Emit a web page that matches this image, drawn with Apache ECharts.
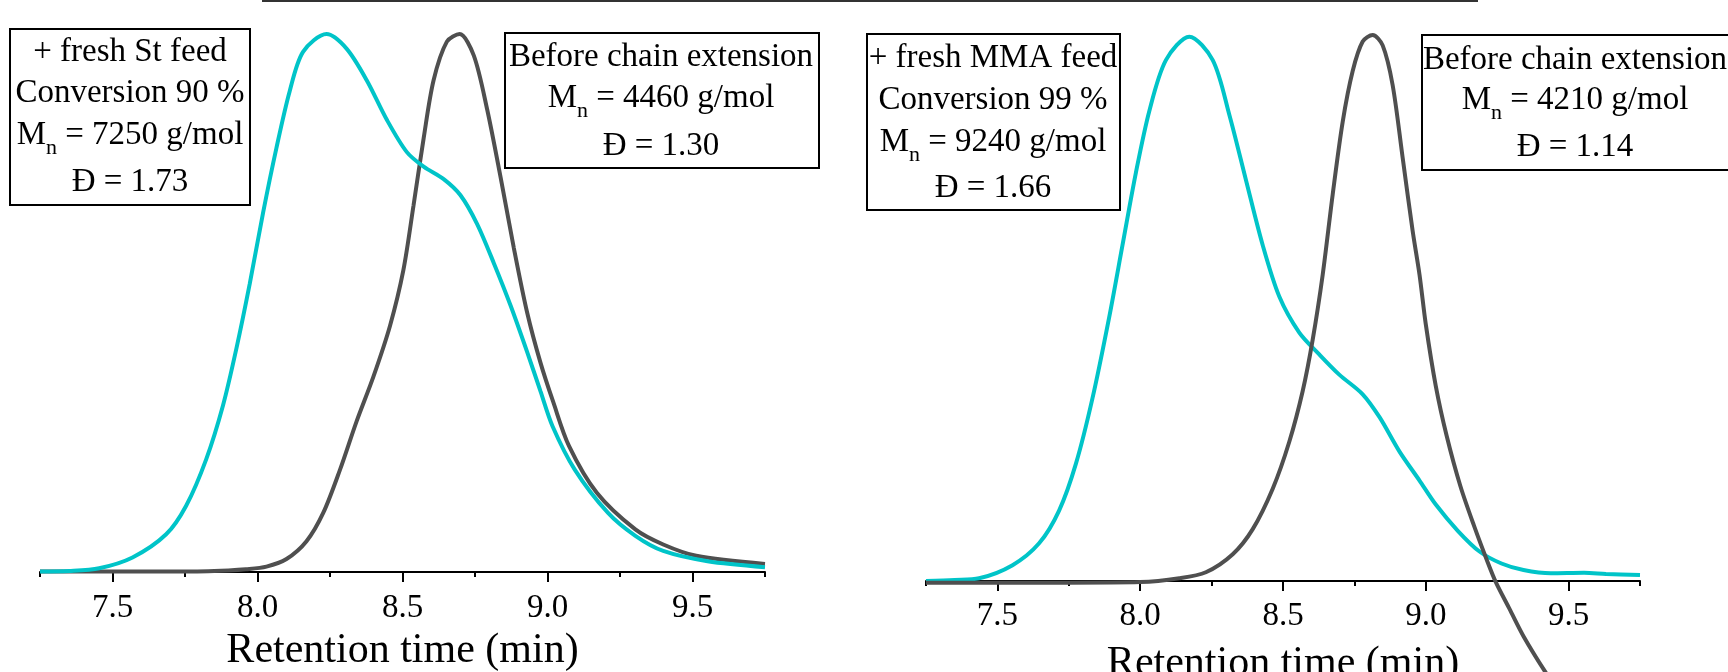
<!DOCTYPE html>
<html>
<head>
<meta charset="utf-8">
<script src="https://cdn.jsdelivr.net/npm/echarts@6/dist/echarts.min.js"></script>
<style>
  html, body { margin: 0; padding: 0; background: #fff; }
  #main { width: 1728px; height: 672px; }
</style>
</head>
<body>
<div id="main"></div>
<script>
// retention time (min) vs normalised detector signal
const stFeedCurve = [
  [7.25, 0.001], [7.35, 0.002], [7.454, 0.007], [7.569, 0.027], [7.685, 0.070],
  [7.754, 0.123], [7.823, 0.209], [7.881, 0.309], [7.927, 0.414], [7.973, 0.534],
  [8.019, 0.666], [8.065, 0.786], [8.111, 0.892], [8.157, 0.965], [8.238, 0.998],
  [8.307, 0.971], [8.377, 0.912], [8.446, 0.839], [8.515, 0.779], [8.573, 0.752],
  [8.642, 0.729], [8.70, 0.699], [8.757, 0.646], [8.815, 0.573], [8.873, 0.494],
  [8.93, 0.408], [8.976, 0.335], [9.017, 0.271], [9.094, 0.190], [9.208, 0.110],
  [9.303, 0.067], [9.399, 0.039], [9.552, 0.020], [9.75, 0.009]
]
const stBeforeCurve = [
  [7.25, 0.001], [7.50, 0.001], [7.75, 0.001], [7.90, 0.003], [7.96, 0.005],
  [8.031, 0.010], [8.10, 0.024], [8.169, 0.057], [8.227, 0.110], [8.284, 0.189],
  [8.342, 0.280], [8.40, 0.363], [8.457, 0.457], [8.503, 0.560], [8.538, 0.680],
  [8.573, 0.805], [8.607, 0.912], [8.653, 0.984], [8.697, 0.998], [8.746, 0.958],
  [8.792, 0.858], [8.838, 0.733], [8.884, 0.601], [8.93, 0.481], [8.976, 0.388],
  [9.02, 0.315], [9.074, 0.234], [9.17, 0.147], [9.303, 0.079], [9.399, 0.051],
  [9.513, 0.030], [9.75, 0.015]
]
const mmaFeedCurve = [
  [7.25, 0.0], [7.35, 0.002], [7.436, 0.005], [7.553, 0.029], [7.646, 0.069],
  [7.716, 0.129], [7.775, 0.215], [7.833, 0.335], [7.891, 0.482], [7.938, 0.615],
  [7.985, 0.748], [8.032, 0.861], [8.09, 0.954], [8.172, 0.997], [8.254, 0.954],
  [8.312, 0.854], [8.37, 0.735], [8.429, 0.615], [8.487, 0.521], [8.557, 0.455],
  [8.627, 0.415], [8.697, 0.378], [8.779, 0.342], [8.838, 0.300], [8.908, 0.237],
  [8.978, 0.184], [9.035, 0.140], [9.112, 0.092], [9.188, 0.054], [9.265, 0.032],
  [9.342, 0.020], [9.438, 0.014], [9.554, 0.015], [9.631, 0.013], [9.75, 0.011]
]
const mmaBeforeCurve = [
  [7.25, -0.003], [7.75, -0.003], [8.0, -0.002], [8.137, 0.005], [8.23, 0.016],
  [8.324, 0.049], [8.394, 0.095], [8.464, 0.169], [8.522, 0.255], [8.569, 0.348],
  [8.604, 0.442], [8.639, 0.561], [8.674, 0.708], [8.709, 0.841], [8.744, 0.934],
  [8.779, 0.988], [8.814, 1.0], [8.849, 0.981], [8.884, 0.908], [8.919, 0.775],
  [8.954, 0.641], [8.978, 0.561], [9.0, 0.470], [9.035, 0.357], [9.073, 0.266],
  [9.121, 0.174], [9.169, 0.101], [9.217, 0.034], [9.246, -0.003], [9.294, -0.052],
  [9.342, -0.101], [9.419, -0.167], [9.50, -0.23]
]
const majorTicks = [7.5, 8.0, 8.5, 9.0, 9.5]
const minorTicks = [7.25, 7.75, 8.25, 8.75, 9.25, 9.75]

const stFeedText = ['+ fresh St feed', 'Conversion 90 %', '7250 g/mol', 'Đ = 1.73']
const stBeforeText = ['Before chain extension', '4460 g/mol', 'Đ = 1.30']
const mmaFeedText = ['+ fresh MMA feed', 'Conversion 99 %', '9240 g/mol', 'Đ = 1.66']
const mmaBeforeText = ['Before chain extension', '4210 g/mol', 'Đ = 1.14']

const serif = "'Liberation Serif', 'Times New Roman', serif"
const cyan = '#00C4C8'
const grey = '#4F4F4F'

function mainAxis (grid, labelSize, margin, nameGap) {
  return {
    type: 'value',
    gridIndex: grid,
    position: 'bottom',
    min: 7.25,
    max: 9.75,
    name: 'Retention time (min)',
    nameLocation: 'middle',
    nameGap: nameGap,
    nameTextStyle: { fontFamily: serif, fontSize: 42, color: '#000' },
    axisLine: { onZero: false, lineStyle: { color: '#000', width: 2 } },
    axisTick: { customValues: majorTicks, length: 10, lineStyle: { color: '#000', width: 2 } },
    axisLabel: {
      customValues: majorTicks,
      margin: margin,
      fontFamily: serif,
      fontSize: labelSize,
      color: '#000',
      formatter: v => v.toFixed(1)
    },
    splitLine: { show: false }
  }
}

function minorAxis (grid) {
  return {
    type: 'value',
    gridIndex: grid,
    position: 'bottom',
    min: 7.25,
    max: 9.75,
    axisLine: { show: false, onZero: false },
    axisTick: { customValues: minorTicks, length: 5, lineStyle: { color: '#000', width: 2 } },
    axisLabel: { show: false },
    splitLine: { show: false }
  }
}

// one annotation box: rect + centred lines, line mnIndex is "Mn = ..."
function noteBox (x, y, w, h, cx, lines, ys, mnIndex) {
  const items = [{
    type: 'rect',
    shape: { x: x, y: y, width: w, height: h },
    style: { fill: '#fff', stroke: '#000', lineWidth: 2 }
  }]
  lines.forEach((t, i) => {
    const isMn = i === mnIndex
    items.push({
      type: 'text',
      x: cx,
      y: ys[i],
      style: {
        text: isMn ? '{m|M}{s|n}{m| = ' + t + '}' : t,
        fontFamily: serif,
        fontSize: 33,
        fill: '#000',
        align: 'center',
        verticalAlign: 'middle',
        rich: {
          m: { fontFamily: serif, fontSize: 33, lineHeight: 48, color: '#000' },
          s: { fontFamily: serif, fontSize: 22, lineHeight: 22, verticalAlign: 'bottom', color: '#000' }
        }
      }
    })
  })
  return items
}

const chart = echarts.init(document.getElementById('main'), null, { renderer: 'canvas' })

const option = {
  animation: false,
  backgroundColor: '#fff',
  grid: [
    { left: 40, width: 725, top: 33, height: 539, outerBoundsMode: 'none' },
    { left: 926, width: 714, top: 35, height: 546, outerBoundsMode: 'none' }
  ],
  xAxis: [
    mainAxis(0, 33, 20, 53),
    mainAxis(1, 33, 19, 62),
    minorAxis(0),
    minorAxis(1)
  ],
  yAxis: [
    { type: 'value', gridIndex: 0, min: 0, max: 1, show: false },
    { type: 'value', gridIndex: 1, min: 0, max: 1, show: false }
  ],
  series: [
    {
      type: 'line', xAxisIndex: 0, yAxisIndex: 0, data: stBeforeCurve, clip: false,
      smooth: 0.3, showSymbol: false, lineStyle: { color: grey, width: 4 }
    },
    {
      type: 'line', xAxisIndex: 0, yAxisIndex: 0, data: stFeedCurve, clip: false,
      smooth: 0.3, showSymbol: false, lineStyle: { color: cyan, width: 4 }
    },
    {
      type: 'line', xAxisIndex: 1, yAxisIndex: 1, data: mmaFeedCurve, clip: false,
      smooth: 0.3, showSymbol: false, lineStyle: { color: cyan, width: 4 }
    },
    {
      type: 'line', xAxisIndex: 1, yAxisIndex: 1, data: mmaBeforeCurve, clip: false,
      smooth: 0.3, showSymbol: false, lineStyle: { color: grey, width: 4 }
    }
  ],
  graphic: [
    {
      type: 'line',
      shape: { x1: 262, y1: 1, x2: 1478, y2: 1 },
      style: { stroke: '#333', lineWidth: 2 }
    },
    ...noteBox(10, 29, 240, 176, 130, stFeedText, [52, 93, 135, 182], 2),
    ...noteBox(505, 33, 314, 135, 661, stBeforeText, [57, 98, 146], 1),
    ...noteBox(867, 34, 253, 176, 993, mmaFeedText, [58, 100, 142, 188], 2),
    ...noteBox(1422, 35, 312, 135, 1575, mmaBeforeText, [60, 100, 147], 1)
  ]
}

chart.setOption(option)
</script>
</body>
</html>
